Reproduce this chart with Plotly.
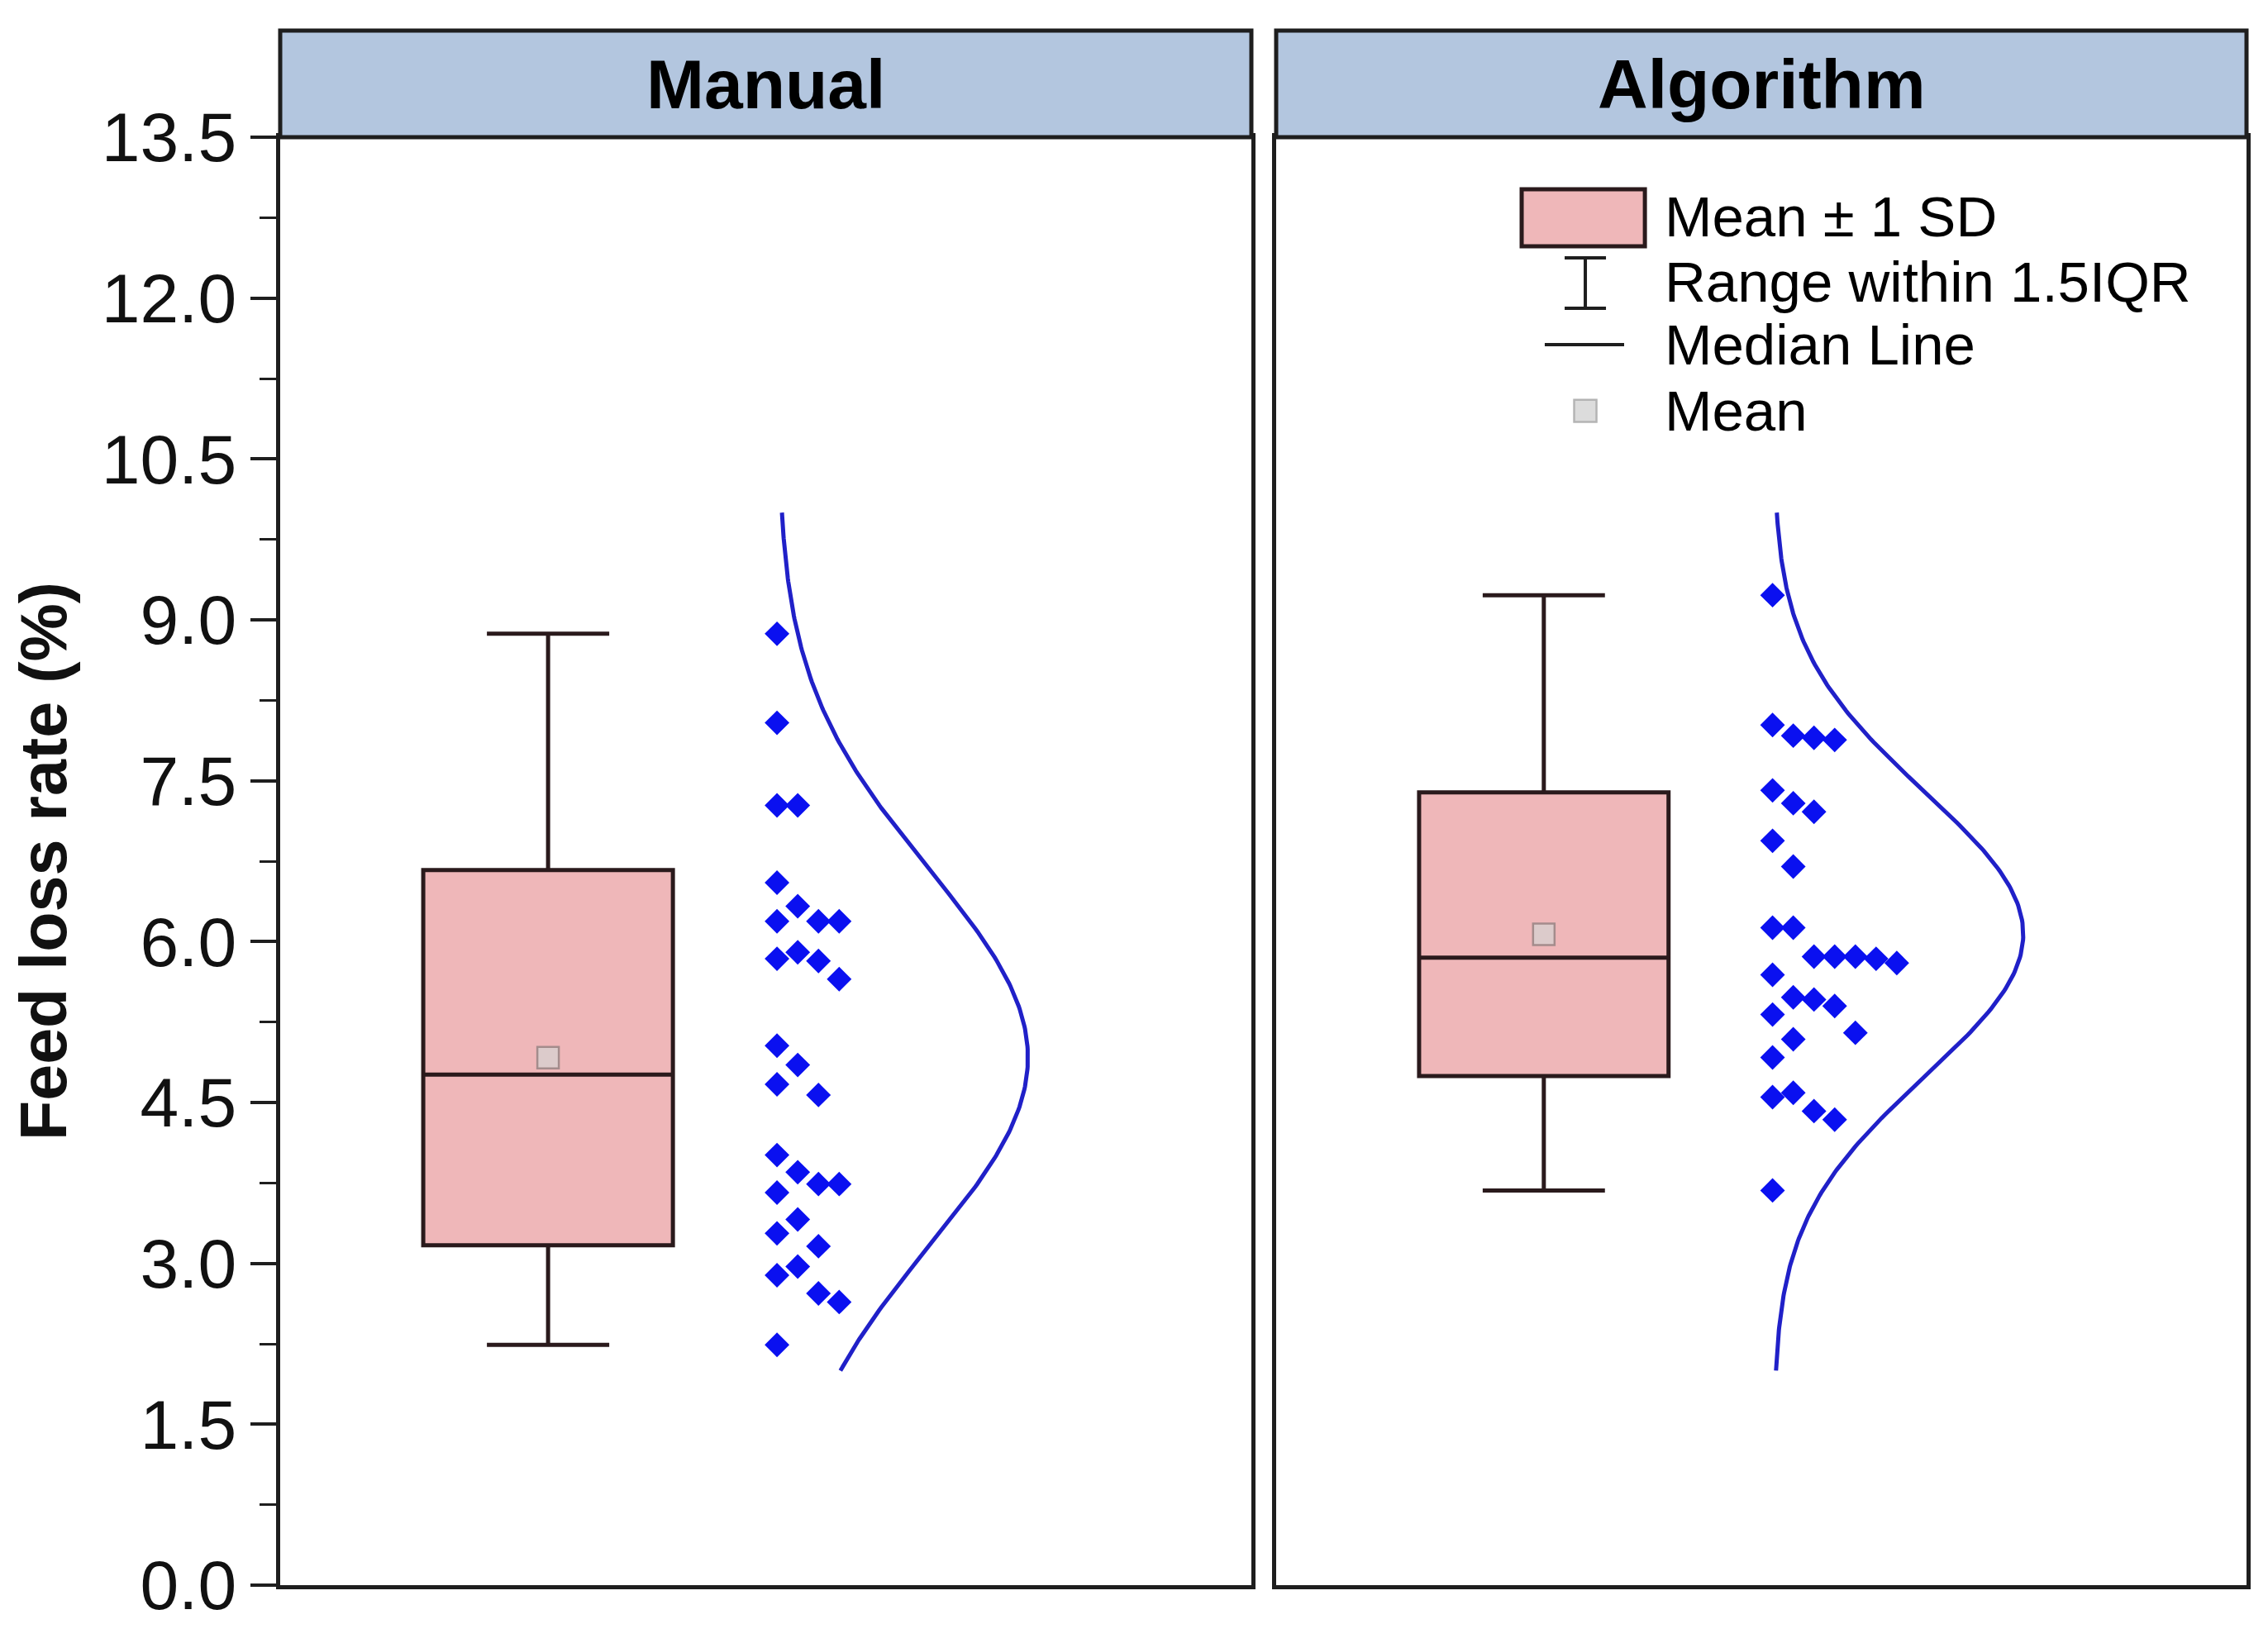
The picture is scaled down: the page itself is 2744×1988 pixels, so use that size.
import numpy as np
import plotly.graph_objects as go
from plotly.subplots import make_subplots

# ---------------- data ----------------
groups = ["Manual", "Algorithm"]
manual_values = [8.87, 8.04, 7.27, 7.27, 6.55, 6.33, 6.19, 6.19, 6.19, 5.90,
                 5.84, 5.82, 5.65, 5.03, 4.85, 4.67, 4.57, 4.01, 3.85, 3.74,
                 3.74, 3.66, 3.41, 3.28, 3.16, 2.97, 2.89, 2.72, 2.64, 2.24]
algorithm_values = [9.23, 8.02, 7.92, 7.90, 7.88, 7.41, 7.29, 7.21, 6.94, 6.70,
                    6.13, 6.13, 5.86, 5.86, 5.86, 5.84, 5.80, 5.69, 5.48, 5.46,
                    5.40, 5.32, 5.15, 5.09, 4.92, 4.59, 4.55, 4.42, 4.34, 3.68]
y_ticks = [0.0, 1.5, 3.0, 4.5, 6.0, 7.5, 9.0, 10.5, 12.0, 13.5]
legend_labels = ["Mean \u00b1 1 SD", "Range within 1.5IQR", "Median Line", "Mean"]
y_title = "Feed loss rate (%)"

# ---------------- layout constants ----------------
W, H = 2728, 1972
ML, MR, MT, MB = 331, 18, 158, 62
PLOT_H = H - MT - MB
Y_MAX = 13.5
XMAX = 3.89
BOX_X, BOX_W = 1.073, 1.0
SWARM_X0, SWARM_STEP = 1.99, 0.083
SWARM_GAP = 0.34
CURVE_X0, CURVE_AMP = 1.995, 1.0
CURVE_LO, CURVE_HI = 2.0, 10.0
FONT = "Arial, Liberation Sans, sans-serif"
BOX_FILL = "#EFB7B9"
BOX_LINE = "#2A1A1C"
POINT_COLOR = "#0A10F0"
CURVE_COLOR = "#2020C8"
STRIP_FILL = "#B3C6DF"

fig = make_subplots(rows=1, cols=2, shared_yaxes=True, horizontal_spacing=0.0126)
fig.update_xaxes(domain=[0, 1175 / 2379], row=1, col=1)
fig.update_xaxes(domain=[1205 / 2379, 1], row=1, col=2)


def swarm_columns(vals):
    order = np.argsort(-np.asarray(vals), kind="stable")
    cols = [[] for _ in range(len(vals))]
    result = [0] * len(vals)
    for i in order:
        v = vals[i]
        k = 0
        while any(abs(v - u) < SWARM_GAP for u in cols[k]):
            k += 1
        cols[k].append(v)
        result[i] = k
    return result


for c, vals in enumerate([manual_values, algorithm_values], start=1):
    arr = np.asarray(vals, dtype=float)
    mean = arr.mean()
    sd = arr.std(ddof=1)
    med = float(np.median(arr))
    q1, q3 = np.percentile(arr, [25, 75])
    iqr = q3 - q1
    lo = arr[arr >= q1 - 1.5 * iqr].min()
    hi = arr[arr <= q3 + 1.5 * iqr].max()

    fig.add_trace(go.Box(
        x=[BOX_X], q1=[mean - sd], q3=[mean + sd], median=[med],
        lowerfence=[lo], upperfence=[hi], width=BOX_W, whiskerwidth=0.49,
        fillcolor=BOX_FILL, line=dict(color=BOX_LINE, width=5),
        boxpoints=False, hoverinfo="skip", showlegend=False,
    ), row=1, col=c)

    fig.add_trace(go.Scatter(
        x=[BOX_X], y=[mean], mode="markers",
        marker=dict(symbol="square", size=26, color="#DCCBCB",
                    line=dict(color="#A48C8C", width=2.5)),
        showlegend=False, hoverinfo="skip",
    ), row=1, col=c)

    cols = swarm_columns(vals)
    fig.add_trace(go.Scatter(
        x=[SWARM_X0 + k * SWARM_STEP for k in cols], y=vals, mode="markers",
        marker=dict(symbol="diamond", size=23, color=POINT_COLOR, line=dict(width=0)),
        showlegend=False, hoverinfo="skip",
    ), row=1, col=c)

    yy = np.linspace(CURVE_LO, CURVE_HI, 300)
    xx = CURVE_X0 + CURVE_AMP * np.exp(-0.5 * ((yy - mean) / sd) ** 2)
    fig.add_trace(go.Scatter(
        x=xx, y=yy, mode="lines", line=dict(color=CURVE_COLOR, width=5),
        showlegend=False, hoverinfo="skip",
    ), row=1, col=c)

axis_line = dict(showline=True, mirror=True, linecolor="#1E1E1E", linewidth=5,
                 showgrid=False, zeroline=False)
fig.update_xaxes(range=[0, XMAX], showticklabels=False, ticks="", **axis_line)
fig.update_yaxes(range=[0, Y_MAX], **axis_line)
fig.update_yaxes(
    tickmode="array", tickvals=y_ticks, ticktext=[f"{t:.1f}" for t in y_ticks],
    ticks="outside", ticklen=31, tickwidth=4, tickcolor="#1E1E1E",
    tickfont=dict(family=FONT, size=84, color="#111"),
    minor=dict(ticks="outside", ticklen=20, tickwidth=3, tickcolor="#1E1E1E",
               dtick=0.75, tick0=0),
    title=dict(text="<b>" + y_title + "</b>", font=dict(family=FONT, size=79, color="#111"),
               standoff=30),
    row=1, col=1)
fig.update_yaxes(showticklabels=False, ticks="", row=1, col=2)

shapes = []
annotations = []
strip_top = 1 + 129 / PLOT_H
for i, name in enumerate(groups):
    xr = "x domain" if i == 0 else "x2 domain"
    shapes.append(dict(type="rect", xref=xr, yref="y domain", x0=0, x1=1,
                       y0=1, y1=strip_top, fillcolor=STRIP_FILL,
                       line=dict(color="#1E1E1E", width=5), layer="above"))
    annotations.append(dict(xref=xr, yref="y domain", x=0.5, y=(1 + strip_top) / 2,
                            text="<b>" + name + "</b>", showarrow=False,
                            xanchor="center", yanchor="middle",
                            font=dict(family=FONT, size=84, color="#000")))

# legend (drawn in the Algorithm panel)
lx = "x2 domain"
shapes.append(dict(type="rect", xref=lx, yref="y domain", x0=0.253, x1=0.380,
                   y0=0.9247, y1=0.964, fillcolor=BOX_FILL,
                   line=dict(color=BOX_LINE, width=5)))
shapes.append(dict(type="line", xref=lx, yref="y domain", x0=0.3186, x1=0.3186,
                   y0=0.8818, y1=0.9167, line=dict(color="#1E1E1E", width=4)))
for yv in (0.8818, 0.9167):
    shapes.append(dict(type="line", xref=lx, yref="y domain", x0=0.2973, x1=0.3399,
                       y0=yv, y1=yv, line=dict(color="#1E1E1E", width=4)))
shapes.append(dict(type="line", xref=lx, yref="y domain", x0=0.2768, x1=0.3586,
                   y0=0.8567, y1=0.8567, line=dict(color="#1E1E1E", width=4)))
shapes.append(dict(type="rect", xref=lx, yref="y domain", x0=0.3186 - 0.0115,
                   x1=0.3186 + 0.0115, y0=0.811 - 0.0077, y1=0.811 + 0.0077,
                   fillcolor="#DCDCDC", line=dict(color="#B4B4B4", width=2.5)))
for text, yv in zip(legend_labels, [0.9452, 0.9001, 0.8567, 0.811]):
    annotations.append(dict(xref=lx, yref="y domain", x=0.3986, y=yv, text=text,
                            showarrow=False, xanchor="left", yanchor="middle",
                            font=dict(family=FONT, size=69, color="#000")))

fig.update_layout(
    width=W, height=H,
    margin=dict(l=ML, r=MR, t=MT, b=MB, autoexpand=False),
    paper_bgcolor="white", plot_bgcolor="white",
    showlegend=False, shapes=shapes, annotations=annotations,
    font=dict(family=FONT),
)

fig.write_html("out.html")
